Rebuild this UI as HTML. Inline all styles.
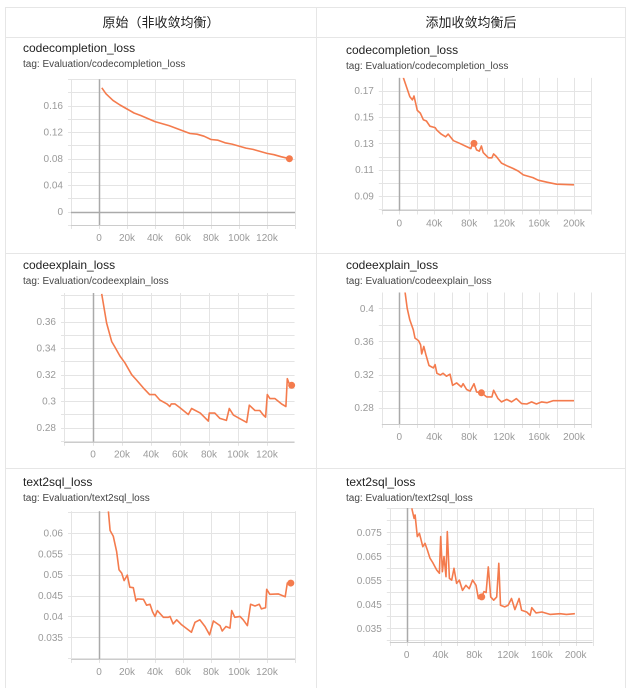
<!DOCTYPE html>
<html><head><meta charset="utf-8">
<style>
html,body{margin:0;padding:0;background:#fff;width:640px;height:688px;overflow:hidden;font-family:"Liberation Sans","Noto Sans CJK SC",sans-serif;}
svg{position:absolute;left:0;top:0;}
</style></head>
<body>
<svg id="s" width="640" height="688" xmlns="http://www.w3.org/2000/svg">
  <g stroke="#e6e6e6" stroke-width="1" fill="none">
    <line x1="5.5" y1="7" x2="5.5" y2="688"/>
    <line x1="316.5" y1="7" x2="316.5" y2="688"/>
    <line x1="625.5" y1="7" x2="625.5" y2="688"/>
    <line x1="5" y1="7.5" x2="626" y2="7.5"/>
    <line x1="5" y1="37.5" x2="626" y2="37.5"/>
    <line x1="5" y1="253.5" x2="626" y2="253.5"/>
    <line x1="5" y1="468.5" x2="626" y2="468.5"/>
  </g>
  <text x="161" y="27" font-size="13" text-anchor="middle" fill="#222">原始（非收敛均衡）</text>
  <text x="471" y="27" font-size="13" text-anchor="middle" fill="#222">添加收敛均衡后</text>
  <g id="charts"></g>
</svg>
<script>
// chart 1: original codecompletion
const c1Steps=[2,5,10,15,20,25,30,40,50,55,60,65,70,75,80,85,90,95,100,105,110,115,120,125,130,136];
const c1Values=[0.187,0.178,0.168,0.161,0.155,0.149,0.145,0.136,0.130,0.126,0.122,0.118,0.117,0.114,0.109,0.108,0.104,0.102,0.099,0.096,0.094,0.091,0.088,0.086,0.083,0.080];
const c1YTicks=[0,0.04,0.08,0.12,0.16];
const c1XTicks=[0,20,40,60,80,100,120];
// chart 2: balanced codecompletion
const c2Steps=[4.6,12,15,16.8,20.6,24,27.5,31,35,41,43,48,53,56,62,69,77,82,84,85.5,88.5,91.6,94,96,102,106,108,111,117,123,130,136,142,153,159,169,180,200];
const c2Values=[0.18,0.1655,0.163,0.166,0.155,0.153,0.148,0.147,0.143,0.142,0.140,0.137,0.135,0.137,0.132,0.130,0.1275,0.126,0.1305,0.130,0.125,0.124,0.128,0.123,0.119,0.119,0.122,0.120,0.115,0.113,0.111,0.109,0.106,0.104,0.102,0.1005,0.099,0.0985];
const c2YTicks=[0.09,0.11,0.13,0.15,0.17];
const c2XTicks=[0,40,80,120,160,200];
// chart 3: original codeexplain
const c3Steps=[6,9.4,12.9,15,18.6,22,26.7,30,34.7,39,42.8,46,51,53,54,56.5,60,65.7,68,74,79.5,80.2,84,87.5,92,94,96.8,101,106,107.8,111.7,115,117.5,119,120.2,122,125.5,130,133,134,135.4,137];
const c3Values=[0.381,0.359,0.345,0.341,0.334,0.329,0.320,0.316,0.310,0.305,0.305,0.301,0.298,0.296,0.298,0.298,0.295,0.290,0.2945,0.291,0.285,0.291,0.291,0.287,0.2855,0.2945,0.2895,0.287,0.284,0.297,0.293,0.293,0.2895,0.288,0.305,0.302,0.302,0.298,0.296,0.317,0.313,0.312];
const c3YTicks=[0.28,0.3,0.32,0.34,0.36];
const c3XTicks=[0,20,40,60,80,100,120];
// chart 4: balanced codeexplain
const c4Steps=[6.5,9,12,16,18,22,24.4,25.6,28,30.5,34,39,41,43,47,50,54,58,61,65.6,71,73,77,81,85.5,88.5,94,100,106,108,113,117,123,128.6,134,140,146,151.5,157,163,169,176,188,200];
const c4Values=[0.42,0.40,0.386,0.374,0.364,0.361,0.356,0.345,0.354,0.344,0.331,0.328,0.332,0.3215,0.3195,0.3215,0.318,0.3205,0.307,0.310,0.305,0.309,0.302,0.300,0.309,0.299,0.298,0.293,0.293,0.301,0.291,0.287,0.290,0.287,0.291,0.285,0.2845,0.287,0.2845,0.287,0.286,0.2885,0.2885,0.2885];
const c4YTicks=[0.28,0.32,0.36,0.4];
const c4XTicks=[0,40,80,120,160,200];
// chart 5: original text2sql
const c5Steps=[6.7,7.9,10.2,12.6,14.3,16.2,17.9,20.2,22,24.5,26.4,27.4,31.7,34,36.4,38.3,40,41.7,46,49.5,50.7,53,55.5,59,66,68.6,72,75.7,79,81.7,86.4,88,90.7,93.6,94.8,97,100.7,103,106,108.3,111.4,114.5,116,119,119.8,122,128,133,134.5,137];
const c5Values=[0.0652,0.0606,0.0592,0.0556,0.0512,0.0504,0.0486,0.0499,0.047,0.0469,0.0437,0.0442,0.0441,0.0427,0.0429,0.0411,0.04,0.0414,0.0398,0.0398,0.04,0.0382,0.0392,0.038,0.0362,0.0386,0.0392,0.0376,0.0356,0.0389,0.0378,0.0365,0.0376,0.0372,0.0414,0.0398,0.04,0.0392,0.0378,0.0429,0.0425,0.0429,0.0418,0.0421,0.0465,0.0453,0.0454,0.0447,0.048,0.048];
const c5YTicks=[0.035,0.04,0.045,0.05,0.055,0.06];
const c5XTicks=[0,20,40,60,80,100,120];
// chart 6: balanced text2sql
const c6Steps=[6,8.7,9.9,12.6,15,16.6,19,21.7,24.5,27.6,30.8,35.5,38.7,40.2,42.2,44.2,46.5,48,50.5,53.3,56,59,62.3,66,70,74,78,82,84.8,88.8,91.5,94,96.6,99.4,103,106.5,109,111,116,120,124,128,133,136,142,146,148,153,160,169.6,181.5,189,199];
const c6Values=[0.085,0.0808,0.0822,0.0732,0.0746,0.0725,0.069,0.0704,0.0676,0.0642,0.0624,0.0593,0.0579,0.0732,0.0586,0.0649,0.0565,0.0753,0.0558,0.0551,0.06,0.0537,0.0551,0.0508,0.0529,0.0515,0.0551,0.0529,0.0474,0.0481,0.0503,0.0499,0.0606,0.0481,0.0467,0.0481,0.0621,0.0446,0.0439,0.0446,0.0474,0.0428,0.0474,0.0425,0.0418,0.0404,0.0436,0.0414,0.0418,0.0408,0.0411,0.0408,0.0411];
const c6YTicks=[0.035,0.045,0.055,0.065,0.075];
const c6XTicks=[0,40,80,120,160,200];

const NS="http://www.w3.org/2000/svg";
const root=document.getElementById('charts');
function mk(tag,attrs,parent){const e=document.createElementNS(NS,tag);for(const k in attrs)e.setAttribute(k,attrs[k]);parent.appendChild(e);return e;}
function fmt(v){return String(+v.toFixed(4));}
function draw(cfg,steps,values,yTicks,xTicks){
  const g=mk('g',{},root);
  
  
  const t=mk('text',{x:cfg.tx,y:cfg.ty,'font-size':12,fill:'#222'},g);t.textContent=cfg.title;
  
  
  const tg=mk('text',{x:cfg.tx,y:cfg.ty+15,'font-size':10,fill:'#444'},g);tg.textContent='tag: Evaluation/'+cfg.title;
  
  
  const sx=v=>cfg.x0+(v-cfg.xa)/(cfg.xb-cfg.xa)*(cfg.x1-cfg.x0);
  const sy=v=>cfg.yBot-(v-cfg.vBot)/(cfg.vTop-cfg.vBot)*(cfg.yBot-cfg.yTop);
  const L=sx(cfg.xmin),R=sx(cfg.xmax),T=sy(cfg.ymax),B=sy(cfg.ymin);
  const grid=mk('g',{stroke:'#e4e4e4','stroke-width':1},g);
  
  
  for(let v=cfg.xmin;v<=cfg.xmax+1e-9;v+=cfg.xgrid){const x=Math.round(sx(v))+0.5;mk('line',{x1:x,x2:x,y1:T,y2:B+4},grid);}
  for(let k=Math.ceil(cfg.ymin/cfg.ygrid-1e-6);k*cfg.ygrid<=cfg.ymax+1e-9;k++){const y=Math.round(sy(k*cfg.ygrid))+0.5;mk('line',{x1:L-3,x2:R,y1:y,y2:y},grid);}
  mk('line',{x1:L,x2:R,y1:Math.round(B)+0.5,y2:Math.round(B)+0.5,stroke:'#ccc'},g);
  const zx=Math.round(sx(0))+0.5;
  mk('line',{x1:zx,x2:zx,y1:T,y2:B,stroke:'#aaa','stroke-width':1.5},g);
  if(cfg.ymin<0){const zy=Math.round(sy(0))+0.5;mk('line',{x1:L,x2:R,y1:zy,y2:zy,stroke:'#aaa','stroke-width':1.5},g);}
  yTicks.forEach(v=>{const e=mk('text',{x:L-8,y:sy(v)+3.5,'font-size':10,fill:'#9a9a9a','text-anchor':'end'},g);e.textContent=fmt(v);
    
    });
  xTicks.forEach(v=>{const e=mk('text',{x:sx(v),y:B+16,'font-size':10,fill:'#9a9a9a','text-anchor':'middle'},g);e.textContent=v===0?'0':v+'k';
    
    });
  const d=steps.map((s,i)=>(i?'L':'M')+sx(s).toFixed(1)+','+sy(values[i]).toFixed(1)).join('');
  const clip=mk('clipPath',{id:'cp'+cfg.name},g);mk('rect',{x:L,y:T,width:R-L,height:B-T},clip);
  const p=mk('path',{d:d,fill:'none',stroke:'#f47b4d','stroke-width':1.6,'stroke-linejoin':'round','clip-path':'url(#cp'+cfg.name+')'},g);
  
  
  const mi=cfg.marker==='last'?steps.length-1:cfg.marker;
  const m=mk('circle',{cx:sx(steps[mi]),cy:sy(values[mi]),r:3.5,fill:'#f47b4d'},g);
  
  
}
draw({name:'orig-codecompletion',title:'codecompletion_loss',tx:23,ty:52,x0:99,x1:267,xa:0,xb:120,xmin:-20,xmax:140,xgrid:20,yTop:105.7,yBot:211.7,vTop:0.16,vBot:0,ymin:-0.02,ymax:0.2,ygrid:0.02,marker:'last'},c1Steps,c1Values,c1YTicks,c1XTicks);
draw({name:'bal-codecompletion',title:'codecompletion_loss',tx:346,ty:54,x0:399.3,x1:574,xa:0,xb:200,xmin:-20,xmax:220,xgrid:20,yTop:90.7,yBot:196,vTop:0.17,vBot:0.09,ymin:0.079,ymax:0.1797,ygrid:0.01,marker:19},c2Steps,c2Values,c2YTicks,c2XTicks);
draw({name:'orig-codeexplain',title:'codeexplain_loss',tx:23,ty:269,x0:93,x1:267,xa:0,xb:120,xmin:-20,xmax:139,xgrid:20,yTop:321.7,yBot:427.7,vTop:0.36,vBot:0.28,ymin:0.2694,ymax:0.3817,ygrid:0.01,marker:'last'},c3Steps,c3Values,c3YTicks,c3XTicks);
draw({name:'bal-codeexplain',title:'codeexplain_loss',tx:346,ty:269,x0:399.3,x1:574,xa:0,xb:200,xmin:-20,xmax:220,xgrid:20,yTop:308.3,yBot:407.7,vTop:0.4,vBot:0.28,ymin:0.2603,ymax:0.419,ygrid:0.02,marker:26},c4Steps,c4Values,c4YTicks,c4XTicks);
draw({name:'orig-text2sql',title:'text2sql_loss',tx:23,ty:486,x0:99,x1:267,xa:0,xb:120,xmin:-20,xmax:140,xgrid:20,yTop:533,yBot:637.3,vTop:0.06,vBot:0.035,ymin:0.0298,ymax:0.0652,ygrid:0.005,marker:'last'},c5Steps,c5Values,c5YTicks,c5XTicks);
draw({name:'bal-text2sql',title:'text2sql_loss',tx:346,ty:486,x0:406.7,x1:575.7,xa:0,xb:200,xmin:-20,xmax:220,xgrid:20,yTop:532.3,yBot:628.3,vTop:0.075,vBot:0.035,ymin:0.0293,ymax:0.0851,ygrid:0.005,marker:29},c6Steps,c6Values,c6YTicks,c6XTicks);
</script>
</body></html>
